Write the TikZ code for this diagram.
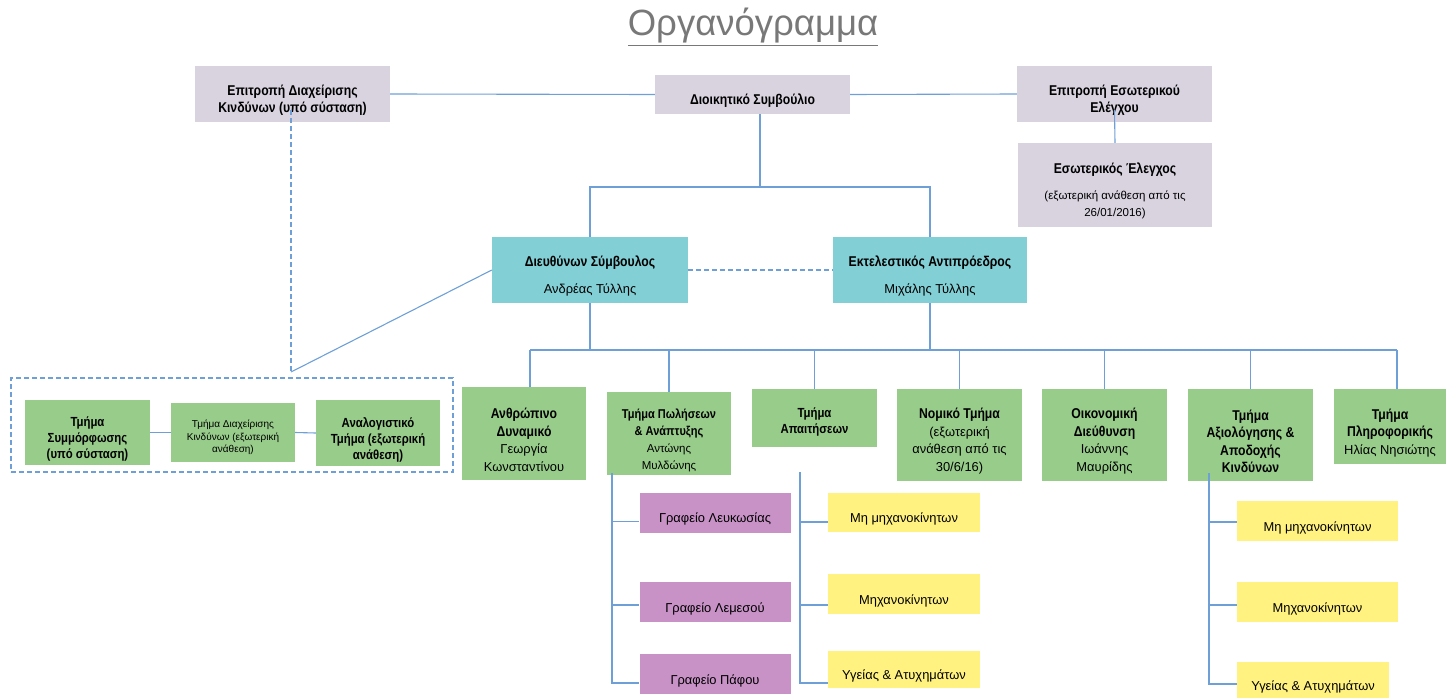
\documentclass[tikz,border=0pt]{standalone}
\usepackage{fontspec}
\setmainfont{Liberation Sans}
\newfontfamily\condfont[FakeStretch=0.86]{Liberation Sans}
\definecolor{lav}{RGB}{217,211,224}
\definecolor{tealb}{RGB}{130,207,213}
\definecolor{grn}{RGB}{152,204,138}
\definecolor{pur}{RGB}{200,146,199}
\definecolor{yel}{RGB}{255,242,128}
\definecolor{linec}{RGB}{110,160,215}
\definecolor{titlec}{RGB}{120,120,120}
\newcommand\boldtx{\condfont\fontsize{14.2}{17.5}\selectfont\bfseries}
\newcommand\boldsm{\condfont\fontsize{13.2}{16}\selectfont\bfseries}
\newcommand\regtx{\rmfamily\fontsize{12.9}{17.5}\selectfont\mdseries}
\newcommand\smalltx{\rmfamily\fontsize{11.5}{16.5}\selectfont\mdseries}
\newcommand\tinytx{\rmfamily\fontsize{10}{12.5}\selectfont\mdseries}
\newcommand\fst{\rule{0pt}{23pt}}
\newcommand\fsts{\rule{0pt}{18pt}}
\begin{document}
\begin{tikzpicture}[x=1pt,y=-1pt,
  box/.style={rectangle, inner sep=0pt, align=center, text=black},
  lavbox/.style={box, fill=lav, font=\boldtx},
  tealbox/.style={box, fill=tealb, font=\boldtx},
  grnbox/.style={box, fill=grn, font=\boldtx},
  purbox/.style={box, fill=pur, font=\regtx},
  yelbox/.style={box, fill=yel, font=\regtx},
  line/.style={draw=linec, line width=1.1pt},
  dline/.style={line, dashed, dash pattern=on 5pt off 3pt}]
\useasboundingbox (0,0) rectangle (1448,698);

% title
\node[text=titlec, font=\fontsize{36.5}{42}\selectfont] (title) at (753,27) {\underline{Οργανόγραμμα}};

% top row
\node[lavbox, minimum width=195, minimum height=56] (edk) at (292.5,94) {\fst Επιτροπή Διαχείρισης\\Κινδύνων (υπό σύσταση)};
\node[lavbox, minimum width=195, minimum height=39] (ds) at (752.5,94.5) {\fst Διοικητικό Συμβούλιο};
\node[lavbox, minimum width=195, minimum height=56] (eee) at (1114.5,94) {\fst Επιτροπή Εσωτερικού\\Ελέγχου};
\node[lavbox, minimum width=194, minimum height=84] (ee) at (1115,185) {\fst Εσωτερικός Έλεγχος\\[8pt]\smalltx (εξωτερική ανάθεση από τις\\\smalltx 26/01/2016)};

% executives
\node[tealbox, minimum width=196, minimum height=66] (ceo) at (590,270) {\fst Διευθύνων Σύμβουλος\\[10pt]\regtx Ανδρέας Τύλλης};
\node[tealbox, minimum width=194, minimum height=66] (exec) at (930,270) {\fst Εκτελεστικός Αντιπρόεδρος\\[10pt]\regtx Μιχάλης Τύλλης};

% departments
\node[grnbox, minimum width=124, minimum height=93] (ad) at (524,433.5) {\fst Ανθρώπινο\\Δυναμικό\\\regtx Γεωργία\\\regtx Κωνσταντίνου};
\node[grnbox, minimum width=124, minimum height=83, font=\condfont\fontsize{12.8}{17}\selectfont\bfseries] (tpa) at (669,433.5) {\fst Τμήμα Πωλήσεων\\\& Ανάπτυξης\\\smalltx Αντώνης\\\smalltx Μυλδώνης};
\node[grnbox, minimum width=125, minimum height=58, font=\boldsm] (ta) at (814.5,418) {\rule{0pt}{17pt}Τμήμα\\Απαιτήσεων};
\node[grnbox, minimum width=125, minimum height=92] (nt) at (959.5,435) {\fst Νομικό Τμήμα\\\regtx (εξωτερική\\\regtx ανάθεση από τις\\\regtx 30/6/16)};
\node[grnbox, minimum width=125, minimum height=92] (od) at (1104.5,435) {\fst Οικονομική\\Διεύθυνση\\\regtx Ιωάννης\\\regtx Μαυρίδης};
\node[grnbox, minimum width=125, minimum height=92] (taak) at (1250.5,435) {\fst Τμήμα\\Αξιολόγησης \&\\Αποδοχής\\Κινδύνων};
\node[grnbox, minimum width=112, minimum height=75] (tp) at (1390,426.5) {\fst Τμήμα\\Πληροφορικής\\\regtx Ηλίας Νησιώτης};

% left group
\node[draw=linec, line width=1.1pt, dashed, dash pattern=on 5pt off 3pt, minimum width=442, minimum height=94, inner sep=0pt] (grp) at (232,425) {};
\node[grnbox, minimum width=125, minimum height=65, font=\boldsm] (sym) at (87.5,432.5) {\fst Τμήμα\\Συμμόρφωσης\\(υπό σύσταση)};
\node[grnbox, minimum width=124, minimum height=59, font=\tinytx] (dk) at (233,432.5) {\fsts Τμήμα Διαχείρισης\\Κινδύνων (εξωτερική\\ανάθεση)};
\node[grnbox, minimum width=124, minimum height=66, font=\boldsm] (anal) at (378,433) {\fst Αναλογιστικό\\Τμήμα (εξωτερική\\ανάθεση)};

% offices
\node[purbox, minimum width=151, minimum height=40] (lef) at (715,512.5) {\fst Γραφείο Λευκωσίας};
\node[purbox, minimum width=151, minimum height=40] (lem) at (715,602) {\fst Γραφείο Λεμεσού};
\node[purbox, minimum width=151, minimum height=40] (paf) at (715,674) {\fst Γραφείο Πάφου};

% claims sub-units
\node[yelbox, minimum width=152, minimum height=39] (ya1) at (904,512.5) {\fst Μη μηχανοκίνητων};
\node[yelbox, minimum width=152, minimum height=40] (ya2) at (904,594) {\fst Μηχανοκίνητων};
\node[yelbox, minimum width=152, minimum height=37] (ya3) at (904,669.5) {\fst Υγείας \& Ατυχημάτων};

% risk sub-units
\node[yelbox, minimum width=161, minimum height=40] (yb1) at (1317.5,521) {\fst Μη μηχανοκίνητων};
\node[yelbox, minimum width=161, minimum height=40] (yb2) at (1317.5,602) {\fst Μηχανοκίνητων};
\node[yelbox, minimum width=152, minimum height=36] (yb3) at (1313,680) {\fst Υγείας \& Ατυχημάτων};

% connectors top
\draw[line] (edk.east) -- (ds.west);
\draw[line] (ds.east) -- (eee.west);
\draw[line] ([yshift=12pt]eee.south) -- (ee.north);
\coordinate (b1) at (760,187);
\draw[line] ([xshift=7.5pt]ds.south) -- (b1);
\draw[line] (ceo.north) |- (exec.north |- b1) -- (exec.north);
\draw[dline] (ceo.east) -- (exec.west);

% bus
\coordinate (b2) at (0,350);
\draw[line] (ceo.south) -- (ceo.south |- b2);
\draw[line] (exec.south) -- (exec.south |- b2);
\draw[line] ([xshift=6pt]ad.north |- b2) -- ([xshift=7pt]tp.north |- b2);
\draw[line] ([xshift=6pt]ad.north |- b2) -- ([xshift=6pt]ad.north);
\foreach \n in {tpa,ta,nt,od,taak}{
  \draw[line] (\n.north |- b2) -- (\n.north);
}
\draw[line] ([xshift=7pt]tp.north |- b2) -- ([xshift=7pt]tp.north);

% left group links
\coordinate (j0) at (291,110);
\coordinate (j) at (291,372);
\draw[dline] (j0) -- (j);
\draw[line] (j) -- (ceo.west);
\draw[line] (sym.east) -- (dk.west);
\draw[line] (dk.east) -- (anal.west);

% offices trunk
\coordinate (t1) at (612,473);
\coordinate (l1) at ([yshift=-9pt]lef.west);
\coordinate (l2) at ([yshift=-3pt]lem.west);
\coordinate (l3) at ([yshift=-9pt]paf.west);
\draw[line] (t1) |- (l3);
\draw[line] (t1 |- l1) -- (l1);
\draw[line] (t1 |- l2) -- (l2);

% claims trunk
\coordinate (t2) at (800,472);
\coordinate (m1) at ([yshift=-9.5pt]ya1.west);
\coordinate (m2) at ([yshift=-11pt]ya2.west);
\coordinate (m3) at ([yshift=-13.5pt]ya3.west);
\draw[line] (t2) |- (m3);
\draw[line] (t2 |- m1) -- (m1);
\draw[line] (t2 |- m2) -- (m2);

% risk trunk
\coordinate (t3) at (1209,473);
\coordinate (n1) at ([yshift=-1pt]yb1.west);
\coordinate (n2) at ([yshift=-3pt]yb2.west);
\coordinate (n3) at ([yshift=-4pt]yb3.west);
\draw[line] (t3) |- (n3);
\draw[line] (t3 |- n1) -- (n1);
\draw[line] (t3 |- n2) -- (n2);
\end{tikzpicture}
\end{document}
